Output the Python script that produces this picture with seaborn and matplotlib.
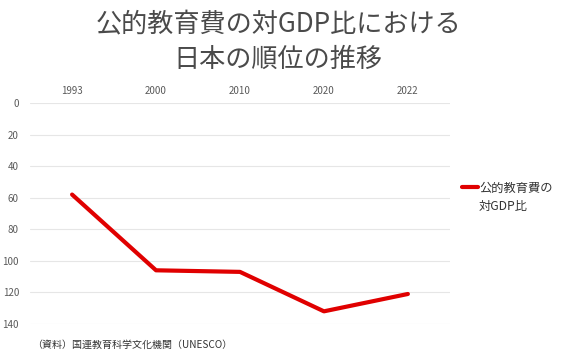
import seaborn as sns
import matplotlib
matplotlib.use("Agg")
import matplotlib.pyplot as plt
import pandas as pd

# データ
years = ["1993", "2000", "2010", "2020", "2022"]
ranks = [58, 106, 107, 132, 121]
y_ticks = [0, 20, 40, 60, 80, 100, 120, 140]
series_name = "公的教育費の\n対GDP比"
title = "公的教育費の対GDP比における\n日本の順位の推移"
source = "（資料）国連教育科学文化機関（UNESCO）"

df = pd.DataFrame({"year": years, "rank": ranks})

sns.set_style("white")
plt.rcParams["font.family"] = ["Noto Sans CJK JP", "DejaVu Sans"]

fig = plt.figure(figsize=(5.68, 3.64), dpi=100)
ax = fig.add_axes([0.053, 0.110, 0.739, 0.607])

# 凡例の線は1行目にそろえるため、ラベルは1行目だけにして2行目は別に書く
first_line, second_line = series_name.split("\n")
sns.lineplot(data=df, x="year", y="rank", ax=ax, color="#e00000",
             linewidth=3, label=first_line, sort=False)

ax.set_xlim(-0.5, len(years) - 0.5)
ax.set_ylim(140, 0)
ax.set_yticks(y_ticks)
ax.xaxis.tick_top()
ax.tick_params(axis="both", length=0, labelsize=7, colors="#5a5a5a", pad=5)
ax.tick_params(axis="y", pad=8)
ax.set_xlabel("")
ax.set_ylabel("")
ax.grid(axis="y", color="#e6e6e6", linewidth=0.8)
ax.set_axisbelow(True)
for s in ax.spines.values():
    s.set_visible(False)

leg = ax.legend(loc="center left", bbox_to_anchor=(0.805, 0.483),
                bbox_transform=fig.transFigure, frameon=False,
                fontsize=8.8, handlelength=1.3, handletextpad=0.1,
                borderaxespad=0)
for t in leg.get_texts():
    t.set_color("#333333")
fig.text(0.843, 0.433, second_line, ha="left", va="center", fontsize=8.8,
         color="#333333")

fig.text(0.49, 0.972, title, ha="center", va="top", fontsize=18.8,
         color="#4a4a4a", linespacing=1.4)
fig.text(0.057, 0.052, source, ha="left", va="center", fontsize=7.2,
         color="#333333")

fig.savefig("out.png", dpi=100)
